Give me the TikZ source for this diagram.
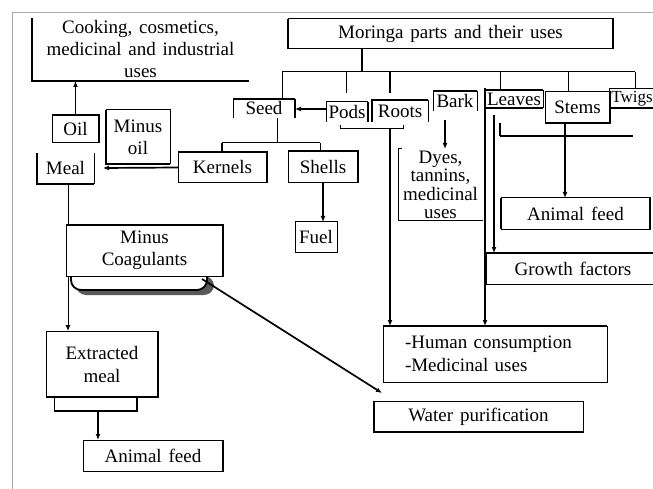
\documentclass[tikz,border=0pt]{standalone}
\usepackage{fontspec}
\setmainfont{Liberation Serif}
\usetikzlibrary{arrows.meta,calc}
\newcommand\dfont{\fontsize{19}{22}\selectfont\spaceskip=0.36em plus 0.1em minus 0.05em\relax}
\newcommand\dyfont{\fontsize{19}{18.3}\selectfont\spaceskip=0.36em plus 0.1em minus 0.05em\relax}
\newcommand\dhfont{\fontsize{19}{23}\selectfont\spaceskip=0.36em plus 0.1em minus 0.05em\relax}
\begin{document}
\begin{tikzpicture}[x=1pt,y=-1pt,
  lbl/.style={inner sep=0pt,outer sep=0pt,align=center,font=\dfont},
  ln/.style={line width=1pt},
  lnm/.style={line width=1.7pt},
  lnk/.style={line width=2.7pt},
  arr/.style={-{Latex[length=6pt,width=5pt]}}]
\useasboundingbox (0,0) rectangle (653,489);
\fill[white] (0,0) rectangle (653,489);
\draw[gray!70, line width=1pt] (12,489) -- (12,13) -- (653,13);

% nodes
\node[lbl,minimum width=325pt,minimum height=30pt] (moringa) at (450.5,34) {Moringa parts and their uses};
\node[lbl,minimum width=217pt,minimum height=63pt] (cooking) at (140.5,49.5) {Cooking, cosmetics,\\medicinal and industrial\\uses};
\node[lbl,minimum width=47pt,minimum height=28pt] (oil) at (75.5,129) {Oil};
\node[lbl,minimum width=64pt,minimum height=54pt] (minusoil) at (138,137) {Minus\\oil};
\node[lbl,minimum width=57pt,minimum height=31pt] (meal) at (65.5,168.5) {Meal};
\node[lbl,minimum width=89pt,minimum height=31pt] (kernels) at (222.5,167.5) {Kernels};
\node[lbl,minimum width=62pt,minimum height=19pt] (seed) at (264,108.5) {Seed};
\node[lbl,minimum width=42pt,minimum height=20pt] (pods) at (347,112) {Pods};
\node[lbl,minimum width=56pt,minimum height=22pt] (roots) at (400,111) {Roots};
\node[lbl,minimum width=44pt,minimum height=20pt] (bark) at (455,101) {Bark};
\node[lbl,minimum width=85pt,minimum height=72pt,font=\dyfont] (dyes) at (440.5,185) {Dyes,\\tannins,\\medicinal\\uses};
\node[lbl,minimum width=58pt,minimum height=18pt] (leaves) at (514,99) {Leaves};
\node[lbl,minimum width=65pt,minimum height=31pt] (stems) at (577.5,107.5) {Stems};
\node[lbl,minimum width=46pt,minimum height=19pt,font=\fontsize{17}{20}\selectfont] (twigs) at (632,98.5) {Twigs};
\node[lbl,minimum width=149pt,minimum height=31pt] (animalR) at (575.5,213.5) {Animal feed};
\node[lbl,minimum width=174pt,minimum height=31pt] (growth) at (573,268.5) {Growth factors};
\node[lbl,minimum height=56pt,text width=180pt,align=left,inner xsep=22pt,font=\dhfont] (human) at (495,354) {-Human consumption\\-Medicinal uses};
\node[lbl,minimum width=209pt,minimum height=31pt] (water) at (478.5,416.5) {Water purification};
\node[lbl,minimum width=157pt,minimum height=51pt] (minuscoag) at (144.5,250.5) {Minus\\Coagulants};
\node[lbl,minimum width=112pt,minimum height=66pt,font=\dhfont] (extracted) at (102,364) {Extracted\\meal};
\node[lbl,minimum width=83pt,minimum height=14pt] (extsub) at (95.5,404) {};
\node[lbl,minimum width=140pt,minimum height=31pt] (animalL) at (153,455.5) {Animal feed};
\node[lbl,minimum width=70pt,minimum height=32pt] (shells) at (323,167) {Shells};
\node[lbl,minimum width=42pt,minimum height=30pt] (fuel) at (316,237) {Fuel};

% shadow band under Minus Coagulants
\fill[black!65, rounded corners=10pt] ($(minuscoag.south west)+(10,0)$) -- ++(0,19) -- ++(138,0) -- ++(0,-19) -- cycle;
\draw[line width=1.8pt, fill=white, rounded corners=10pt] ($(minuscoag.south west)+(5,0)$) -- ++(0,14) -- ++(136,0) -- ++(0,-14);

% box edges
\draw[ln] (moringa.north west) rectangle (moringa.south east);
\draw[lnk] (moringa.north west) -- (moringa.south west) (moringa.north east) -- (moringa.south east);
\draw[lnk] (cooking.north west) -- (cooking.south west) -- (cooking.south east);
\draw[ln] (oil.north west) rectangle (oil.south east);
\draw[lnm] (oil.north west) -- (oil.north east) -- (oil.south east);
\draw[ln] (minusoil.north west) rectangle (minusoil.south east);
\draw[lnk] (minusoil.north west) -- (minusoil.south west) -- (minusoil.south east);
\draw[lnk] (meal.north west) -- (meal.south west) -- (meal.south east);
\draw[ln] (meal.south east) -- (meal.north east);
\draw[ln] (kernels.north west) rectangle (kernels.south east);
\draw[lnk] (kernels.north west) -- (kernels.north east) -- (kernels.south east);
\draw[ln] (seed.south west) -- (seed.north west);
\draw[lnm] (seed.north west) -- (seed.north east);
\draw[lnk] (seed.north east) -- (seed.south east);
\draw[ln] (pods.south west) -- (pods.north west) -- (pods.north east);
\draw[lnm] (pods.north east) -- (pods.south east);
\draw[lnk] (roots.south west) -- (roots.north west) -- (roots.north east);
\draw[ln] (roots.north east) -- (roots.south east);
\draw[ln] (bark.south west) -- (bark.north west) (bark.north east) -- (bark.south east);
\draw[lnk] (bark.north west) -- (bark.north east);
\draw[ln] ($(dyes.north west)+(4,0)$) -- (dyes.north west) -- (dyes.south west) -- (dyes.south east);
\draw[lnk] (leaves.north west) -- (leaves.north east) (leaves.south west) -- (leaves.south east);
\draw[ln] (leaves.north east) -- (leaves.south east);
\draw[ln] (stems.north west) rectangle (stems.south east);
\draw[lnk] (stems.south west) -- (stems.south east) -- (stems.north east);
\draw[ln] (twigs.north east) -- (twigs.north west) -- (twigs.south west);
\draw[lnk] (twigs.south west) -- (twigs.south east);
\draw[ln] (animalR.north west) rectangle (animalR.south east);
\draw[lnk] (animalR.north west) -- (animalR.south west) (animalR.north east) -- (animalR.south east);
\draw[ln] (growth.north west) rectangle (growth.south east);
\draw[lnm] (growth.north west) -- (growth.north east);
\draw[lnk] (growth.north west) -- (growth.south west);
\draw[ln] (human.north west) rectangle (human.south east);
\draw[lnm] (human.north west) -- (human.north east);
\draw[ln] (water.north west) rectangle (water.south east);
\draw[lnk] (water.north west) -- (water.south west) -- (water.south east);
\draw[ln] (minuscoag.north west) rectangle (minuscoag.south east);
\draw[lnk] (minuscoag.north west) -- (minuscoag.north east) -- (minuscoag.south east);
\draw[ln] (extracted.north west) rectangle (extracted.south east);
\draw[lnk] (extracted.south west) -- (extracted.south east) -- (extracted.north east);
\draw[ln] (extsub.north west) -- (extsub.south west);
\draw[lnk] (extsub.south west) -- (extsub.south east) -- (extsub.north east);
\draw[ln] (animalL.north west) rectangle (animalL.south east);
\draw[lnk] (animalL.north east) -- (animalL.south east);
\draw[ln] (shells.north west) rectangle (shells.south east);
\draw[lnk] (shells.north west) -- (shells.north east) -- (shells.south east);
\draw[ln] (fuel.north west) rectangle (fuel.south east);

% connector coordinates
\coordinate (hub) at (362,72);
\coordinate (busL) at (282,72);
\coordinate (busR) at (635,72);
\coordinate (tPods) at (346,72);
\coordinate (tPodsE) at (346,93);
\coordinate (tRoots) at (390,72);
\coordinate (tRootsE) at (390,93);
\coordinate (tLeaves) at (500,72);
\coordinate (tStems) at (568,72);
\coordinate (psy) at (0,109);
\coordinate (sfork) at (277,143);
\coordinate (kf) at (222,143);
\coordinate (shf) at (320,143);
\coordinate (km) at (103,168);
\coordinate (mx) at (68,0);
\coordinate (ax) at (98,0);
\coordinate (bx) at (445,120);
\coordinate (rb1) at (340,129);
\coordinate (rb2) at (403,129);
\coordinate (rx) at (390,129);
\coordinate (lx) at (485,88);
\coordinate (lx2) at (494,115);
\coordinate (su1) at (500,136);
\coordinate (su2) at (633,136);
\coordinate (sx) at (565,0);

% connectors
\draw[lnk] (moringa.south -| hub) -- (hub);
\draw[ln] (busL) -- (busR);
\draw[ln] (busL) -- (seed.north -| busL);
\draw[ln] (tPods) -- (tPodsE);
\draw[lnk] (tRoots) -- (tRootsE);
\draw[ln] (tLeaves) -- (leaves.north -| tLeaves);
\draw[ln] (tStems) -- (stems.north -| tStems);
\draw[ln] (busR) -- (twigs.north -| busR);
\draw[lnk,arr] (pods.west |- psy) -- (seed.east |- psy);
\draw[ln] (seed.south -| sfork) -- (sfork);
\draw[ln] (kf) -- (shf);
\draw[lnk] (kf) -- (kernels.north -| kf);
\draw[ln] (shf) -- (shells.north -| shf);
\draw[lnm,arr] (kernels.west) -- (km);
\draw[lnm,arr] (oil.north) -- (oil.north |- cooking.south);
\draw[ln] (meal.south -| mx) -- (minuscoag.north -| mx);
\draw[ln,arr] (minuscoag.south -| mx) -- (extracted.north -| mx);
\draw[lnm,arr] ($(minuscoag.south east)+(-21,3)$) -- ($(water.north west)+(8,-8)$);
\draw[lnm,arr] (extsub.south -| ax) -- (animalL.north -| ax);
\draw[lnk,arr] (shells.south) -- (shells.south |- fuel.north);
\draw[lnm,arr] (bx) -- (bx |- dyes.north);
\draw[ln] ($(rb1)+(0,-4)$) -- (rb1) -- (rb2) -- ($(rb2)+(0,-4)$);
\draw[lnk,arr] (rx) -- (human.north -| rx);
\draw[lnk,arr] (lx) -- (human.north -| lx);
\draw[lnm,arr] (lx2) -- (growth.north -| lx2);
\draw[lnk] (su1) -- (su2);
\draw[lnm] (su1 |- stems.south) -- (su1);
\draw[lnm,arr] (stems.south -| sx) -- (animalR.north -| sx);
\end{tikzpicture}
\end{document}
